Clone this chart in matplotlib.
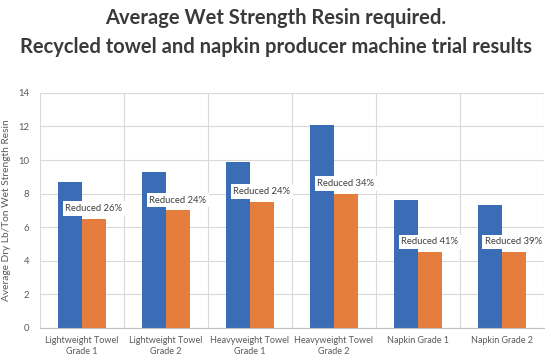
import numpy as np
import matplotlib.pyplot as plt

plt.rcParams['font.family'] = ['Lato', 'DejaVu Sans']

categories = ["Lightweight Towel\nGrade 1", "Lightweight Towel\nGrade 2",
              "Heavyweight Towel\nGrade 1", "Heavyweight Towel\nGrade 2",
              "Napkin Grade 1", "Napkin Grade 2"]
before = [8.7, 9.3, 9.9, 12.1, 7.65, 7.3]
after = [6.5, 7.0, 7.5, 8.0, 4.5, 4.5]
labels = ["Reduced 26%", "Reduced 24%", "Reduced 24%",
          "Reduced 34%", "Reduced 41%", "Reduced 39%"]

blue = '#3a6db5'
orange = '#e57d3c'
grid = '#d9d9d9'
text_gray = '#595959'

fig = plt.figure(figsize=(5.51, 3.6), dpi=100)
ax = fig.add_axes([0.0726, 0.089, 0.9144, 0.653])

x = np.arange(len(categories))
w = 0.286
ax.bar(x - w / 2, before, w, color=blue, zorder=2)
ax.bar(x + w / 2, after, w, color=orange, zorder=2)

for xi, v, t in zip(x, after, labels):
    ax.text(xi + w / 2, v + 0.62, t, ha='center', va='center', fontsize=6.8,
            color='#404040', zorder=3,
            bbox=dict(boxstyle='square,pad=0.3', fc='white', ec='none'))

ax.set_xlim(-0.5, len(categories) - 0.5)
ax.set_ylim(0, 14)
ax.set_yticks(np.arange(0, 15, 2))
ax.set_xticks(x)
ax.set_xticklabels(categories, fontsize=6.5, color=text_gray)
ax.tick_params(axis='y', labelsize=6.8, colors=text_gray, length=0, pad=8)
ax.tick_params(axis='x', length=0, pad=6)

ax.grid(axis='y', color=grid, linewidth=0.8, zorder=0)
for b in np.arange(-0.5, len(categories), 1):
    ax.axvline(b, color=grid, linewidth=0.8, zorder=0)
for s in ['top', 'right', 'left']:
    ax.spines[s].set_visible(False)
ax.spines['bottom'].set_color('#bfbfbf')

ax.set_ylabel("Average Dry Lb/Ton Wet Strength Resin", fontsize=7.3,
              color=text_gray, labelpad=5)

fig.text(0.5, 0.95, "Average Wet Strength Resin required.",
         ha='center', va='center', fontsize=14.5, fontweight='bold',
         color='#3a3a3a')
fig.text(0.5, 0.87, "Recycled towel and napkin producer machine trial results",
         ha='center', va='center', fontsize=14.5, fontweight='bold',
         color='#3a3a3a')

plt.savefig("out.png", dpi=100)
plt.close()
